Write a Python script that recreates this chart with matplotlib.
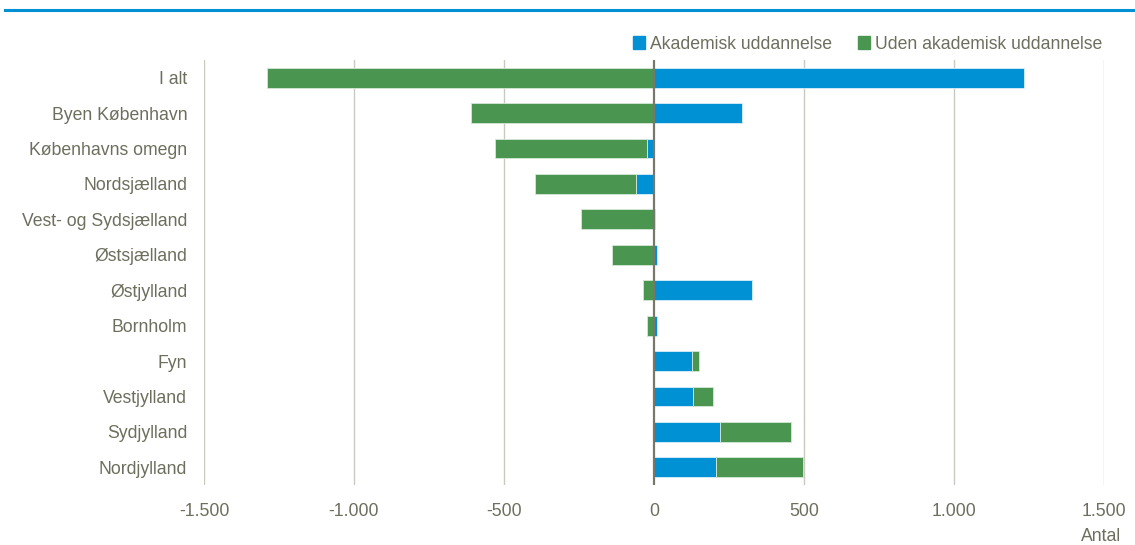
import matplotlib.pyplot as plt
from matplotlib.patches import Patch

# Data
regioner = ["I alt", "Byen København", "Københavns omegn", "Nordsjælland",
            "Vest- og Sydsjælland", "Østsjælland", "Østjylland", "Bornholm",
            "Fyn", "Vestjylland", "Sydjylland", "Nordjylland"]
akademisk = [1233, 293, -24, -60, 2, 10, 327, 10, 128, 131, 221, 207]
uden_akademisk = [-1290, -610, -506, -337, -243, -140, -36, -23, 22, 65, 237, 290]
x_ticks = [-1500, -1000, -500, 0, 500, 1000, 1500]
x_labels = ["-1.500", "-1.000", "-500", "0", "500", "1.000", "1.500"]

blaa = "#0090D4"
groen = "#4A9651"
tekst = "#6E6E5E"

plt.rcParams['font.family'] = ['Liberation Sans Narrow', 'Liberation Sans', 'DejaVu Sans']

fig = plt.figure(figsize=(11.35, 5.45), dpi=100)
ax = fig.add_axes([0.1797, 0.110, 0.7930, 0.780])

y = list(range(len(regioner)))[::-1]

# Grøn stables efter blå hvis samme fortegn, ellers fra 0
start_groen = []
for a, u in zip(akademisk, uden_akademisk):
    if (a >= 0) == (u >= 0):
        start_groen.append(a)
    else:
        start_groen.append(0)

ax.barh(y, akademisk, height=0.56, color=blaa, edgecolor="#DDEFF8", linewidth=0.6, zorder=3)
ax.barh(y, uden_akademisk, left=start_groen, height=0.56, color=groen,
        edgecolor="#D6E8D8", linewidth=0.6, zorder=3)

ax.set_xlim(-1500, 1500)
ax.set_ylim(-0.5, len(regioner) - 0.5)
ax.set_yticks(y)
ax.set_yticklabels(regioner, fontsize=12.7, color=tekst)
ax.set_xticks(x_ticks)
ax.set_xticklabels(x_labels, fontsize=12.7, color=tekst)
ax.tick_params(axis="y", length=0, pad=12)
ax.tick_params(axis="x", length=0, pad=13)

for v in x_ticks:
    if v != 0:
        ax.axvline(v, color="#C9C9BF", linewidth=1, zorder=1)
ax.axvline(0, color="#77776A", linewidth=1.6, zorder=4)

for s in ax.spines.values():
    s.set_visible(False)

fig.text(0.9875, 0.0, "Antal", fontsize=12.7, color=tekst, ha="right", va="bottom")

handles = [Patch(color=blaa, label="Akademisk uddannelse"),
           Patch(color=groen, label="Uden akademisk uddannelse")]
fig.legend(handles=handles, loc="center right", bbox_to_anchor=(0.985, 0.919), ncol=2,
           frameon=False, fontsize=12.7, handlelength=0.7, handleheight=0.7,
           handletextpad=0.25, columnspacing=1.5, labelcolor=tekst)

# Blå linje øverst
fig.add_artist(plt.Line2D([0.004, 1.0], [0.982, 0.982], color=blaa, linewidth=2.2,
                          transform=fig.transFigure))

fig.savefig("out.png", dpi=100)
